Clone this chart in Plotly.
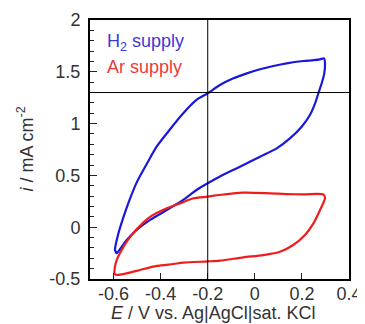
import plotly.graph_objects as go

# H2 supply (blue) cyclic voltammogram
h2_E = [-0.590, -0.594, -0.580, -0.559, -0.530, -0.502, -0.459, -0.417, -0.360, -0.304,
        -0.248, -0.200, -0.150, -0.091, -0.034, 0.022, 0.079, 0.135, 0.206, 0.250,
        0.277, 0.294, 0.298, 0.295, 0.284, 0.270, 0.256, 0.234, 0.199, 0.149,
        0.093, 0.022, -0.063, -0.150, -0.200, -0.248, -0.304, -0.374, -0.445, -0.502,
        -0.544, -0.587, -0.590]
h2_i = [-0.24, -0.22, -0.065, 0.090, 0.275, 0.430, 0.610, 0.777, 0.945, 1.099,
        1.228, 1.293, 1.370, 1.437, 1.485, 1.524, 1.556, 1.582, 1.604, 1.612,
        1.620, 1.630, 1.582, 1.485, 1.389, 1.293, 1.196, 1.083, 0.970, 0.857,
        0.761, 0.680, 0.584, 0.487, 0.424, 0.359, 0.263, 0.166, 0.070, -0.027,
        -0.124, -0.252, -0.24]

# Ar supply (red) cyclic voltammogram
ar_E = [-0.594, -0.587, -0.573, -0.544, -0.502, -0.445, -0.374, -0.318, -0.261, -0.200,
        -0.151, -0.049, 0.064, 0.135, 0.206, 0.291, 0.298, 0.277, 0.249, 0.213,
        0.163, 0.107, 0.036, -0.049, -0.148, -0.200, -0.304, -0.346, -0.417, -0.488,
        -0.544, -0.587, -0.596, -0.594]
ar_i = [-0.381, -0.320, -0.252, -0.140, -0.020, 0.100, 0.182, 0.230, 0.279, 0.295,
        0.311, 0.333, 0.327, 0.320, 0.317, 0.317, 0.279, 0.166, 0.037, -0.075,
        -0.172, -0.237, -0.269, -0.291, -0.323, -0.330, -0.342, -0.355, -0.374, -0.413,
        -0.445, -0.460, -0.450, -0.381]

x_ticks = [-0.6, -0.4, -0.2, 0, 0.2, 0.4]
x_tick_text = ["-0.6", "-0.4", "-0.2", "0", "0.2", "0.4"]
y_ticks = [-0.5, 0, 0.5, 1, 1.5, 2]
y_tick_text = ["-0.5", "0", "0.5", "1", "1.5", "2"]

x_title = "<i>E</i> / V vs. Ag|AgCl|sat. KCl"
y_title = "<i>i</i> / mA cm<sup>-2</sup>"

cross_E = -0.2
cross_i = 1.3

FONT = "Liberation Sans, Arial, sans-serif"
BLUE = "#1818dc"
RED = "#f01c1c"
TXT = "#333"

fig = go.Figure()
fig.add_trace(go.Scatter(x=h2_E, y=h2_i, mode="lines",
                         line=dict(color=BLUE, width=2.2, shape="spline", smoothing=0.7),
                         name="H2 supply"))
fig.add_trace(go.Scatter(x=ar_E, y=ar_i, mode="lines",
                         line=dict(color=RED, width=2.2, shape="spline", smoothing=0.7),
                         name="Ar supply"))

fig.add_shape(type="line", xref="x", yref="paper", x0=cross_E, x1=cross_E, y0=0, y1=1,
              line=dict(color="black", width=1))
fig.add_shape(type="line", xref="paper", yref="y", x0=0, x1=1, y0=cross_i, y1=cross_i,
              line=dict(color="black", width=1))

fig.add_annotation(x=-0.635, y=1.78, xref="x", yref="y", text="H<sub>2</sub> supply",
                   showarrow=False, xanchor="left", yanchor="middle",
                   font=dict(family=FONT, size=18, color="#3a3ad8"))
fig.add_annotation(x=-0.635, y=1.55, xref="x", yref="y", text="Ar supply",
                   showarrow=False, xanchor="left", yanchor="middle",
                   font=dict(family=FONT, size=18, color="#ee3a3a"))

# axis titles as annotations for exact placement
fig.add_annotation(x=0.5, y=0, xref="paper", yref="paper", text=x_title,
                   showarrow=False, xanchor="center", yanchor="middle",
                   xshift=-7, yshift=-34,
                   font=dict(family=FONT, size=18, color=TXT))
fig.add_annotation(x=0, y=0.5, xref="paper", yref="paper", text=y_title,
                   showarrow=False, xanchor="center", yanchor="middle", textangle=-90,
                   xshift=-64,
                   font=dict(family=FONT, size=18, color=TXT))

# the page body adds an 8px margin, so the figure is 8px smaller on each axis
fig.update_layout(
    width=357, height=316,
    margin=dict(l=82, r=16, t=12, b=45, autoexpand=False),
    paper_bgcolor="white", plot_bgcolor="white",
    showlegend=False,
    font=dict(family=FONT, size=18, color="#222"),
)
fig.update_xaxes(
    range=[-0.7, 0.4], tickvals=x_ticks, ticktext=x_tick_text,
    ticks="inside", ticklen=6, tickwidth=1, tickcolor="#222",
    showgrid=False, zeroline=False, automargin=False,
    showline=True, linecolor="black", linewidth=2, mirror=True,
    tickfont=dict(size=18, color=TXT), ticklabelstandoff=-3,
)
fig.update_yaxes(
    range=[-0.5, 2], tickvals=y_ticks, ticktext=y_tick_text,
    ticks="inside", ticklen=7, tickwidth=1, tickcolor="#222",
    minor=dict(ticks="inside", ticklen=4, dtick=0.1, tick0=0, tickcolor="#222", tickwidth=1),
    showgrid=False, zeroline=False, automargin=False,
    showline=True, linecolor="black", linewidth=2, mirror=True,
    tickfont=dict(size=18, color=TXT), ticklabelstandoff=4,
)

fig.write_html("out.html")
